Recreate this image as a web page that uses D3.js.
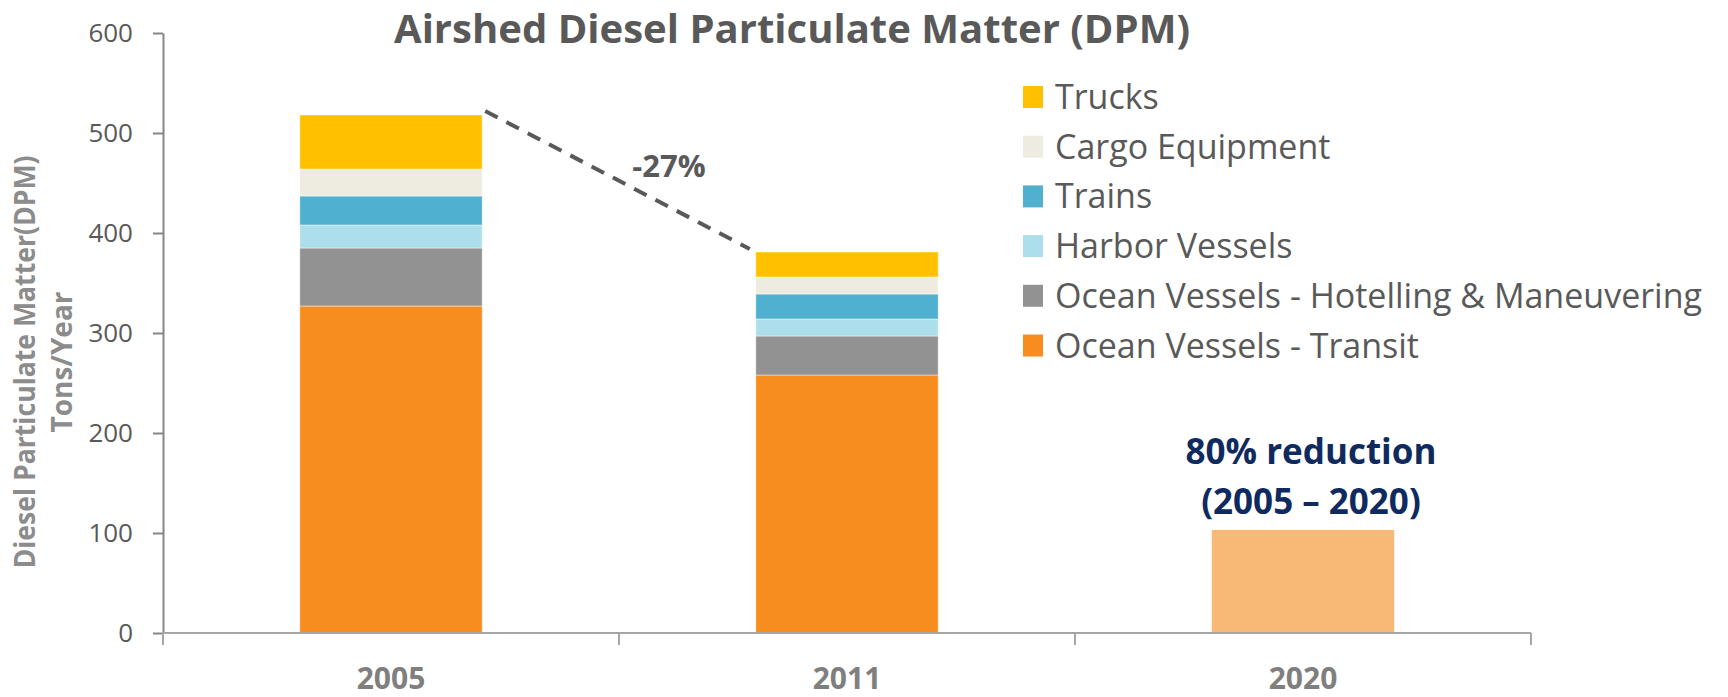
<!DOCTYPE html>
<html lang="en">
	<head>
		<meta charset="utf-8">
		<title>Airshed Diesel Particulate Matter (DPM)</title>
		<script type="text/javascript" src="https://cdn.jsdelivr.net/npm/d3@7"></script>
		<style type="text/css">
			body { margin: 0; background: #fff; }
			text { font-family: "Open Sans", sans-serif; }
		</style>
	</head>
	<body>
		<script type="text/javascript">

			//Data (tons/year)
			var years = ["2005", "2011", "2020"];
			var seriesNames = ["Ocean Vessels - Transit", "Ocean Vessels - Hotelling & Maneuvering",
							   "Harbor Vessels", "Trains", "Cargo Equipment", "Trucks"];
			var transit   = [327, 258, 0];
			var hotelling = [58, 39, 0];
			var harbor    = [23, 17, 0];
			var trains    = [29, 25, 0];
			var cargo     = [27, 17, 0];
			var trucks    = [54, 25, 0];
			var target2020 = [0, 0, 103];
			var yTicks = [0, 100, 200, 300, 400, 500, 600];
			var colors = ["#F78D1F", "#929292", "#ACDFEB", "#4FB0D0", "#EEECE1", "#FFC000"];
			var targetColor = "#F8B977";

			//Width and height
			var w = 1728;
			var h = 697;
			var plotLeft = 163, plotRight = 1531, plotTop = 33, plotBottom = 633;

			var rows = years.map(function(y, i) {
				return {
					year: y,
					"Ocean Vessels - Transit": transit[i],
					"Ocean Vessels - Hotelling & Maneuvering": hotelling[i],
					"Harbor Vessels": harbor[i],
					"Trains": trains[i],
					"Cargo Equipment": cargo[i],
					"Trucks": trucks[i]
				};
			});

			var stacked = d3.stack().keys(seriesNames)(rows);

			var xOuter = d3.scaleBand()
							.domain(years)
							.range([plotLeft, plotRight])
							.padding(0);

			var xScale = d3.scaleBand()
							.domain(years)
							.range([plotLeft, plotRight])
							.paddingInner(0.6)
							.paddingOuter(0.3);

			var yScale = d3.scaleLinear()
							.domain([0, 600])
							.range([plotBottom, plotTop]);

			//Create SVG element
			var svg = d3.select("body")
						.append("svg")
						.attr("width", w)
						.attr("height", h);

			//Stacked bars
			svg.selectAll("g.series")
			   .data(stacked)
			   .enter()
			   .append("g")
			   .attr("class", "series")
			   .attr("fill", function(d, i) { return colors[i]; })
			   .selectAll("rect")
			   .data(function(d) { return d.filter(function(s) { return s[1] > s[0]; }); })
			   .enter()
			   .append("rect")
			   .attr("x", function(d) { return xScale(d.data.year); })
			   .attr("y", function(d) { return yScale(d[1]); })
			   .attr("width", xScale.bandwidth())
			   .attr("height", function(d) { return yScale(d[0]) - yScale(d[1]); })
			   .attr("stroke", "rgba(255,255,255,0.45)")
			   .attr("stroke-width", 1);

			//2020 target bar
			svg.selectAll("rect.target")
			   .data(years.filter(function(d, i) { return target2020[i] > 0; }))
			   .enter()
			   .append("rect")
			   .attr("class", "target")
			   .attr("x", function(d) { return xScale(d); })
			   .attr("y", function(d) { return yScale(target2020[years.indexOf(d)]); })
			   .attr("width", xScale.bandwidth())
			   .attr("height", function(d) { return plotBottom - yScale(target2020[years.indexOf(d)]); })
			   .attr("fill", targetColor);

			//Y axis
			var yAxis = d3.axisLeft(yScale)
						  .tickValues(yTicks)
						  .tickSize(10)
						  .tickSizeOuter(0)
						  .tickPadding(20);

			var gy = svg.append("g")
						.attr("transform", "translate(" + plotLeft + ",0)")
						.call(yAxis);
			gy.select(".domain").attr("stroke", "#868686").attr("stroke-width", 2);
			gy.selectAll(".tick line").attr("stroke", "#868686").attr("stroke-width", 2);
			gy.selectAll(".tick text")
			  .attr("font-family", "Open Sans")
			  .attr("font-size", "26px")
			  .attr("fill", "#595959");

			//X axis line with boundary ticks
			svg.append("line")
			   .attr("x1", plotLeft).attr("x2", plotRight)
			   .attr("y1", plotBottom).attr("y2", plotBottom)
			   .attr("stroke", "#A6A6A6")
			   .attr("stroke-width", 2);

			var bounds = years.map(function(d) { return xOuter(d); }).concat([plotRight]);
			svg.selectAll("line.xtick")
			   .data(bounds)
			   .enter()
			   .append("line")
			   .attr("class", "xtick")
			   .attr("x1", function(d) { return d; })
			   .attr("x2", function(d) { return d; })
			   .attr("y1", plotBottom)
			   .attr("y2", plotBottom + 12)
			   .attr("stroke", "#A6A6A6")
			   .attr("stroke-width", 2);

			svg.selectAll("text.xlabel")
			   .data(years)
			   .enter()
			   .append("text")
			   .attr("class", "xlabel")
			   .attr("x", function(d) { return xOuter(d) + xOuter.bandwidth() / 2; })
			   .attr("y", 689)
			   .attr("text-anchor", "middle")
			   .attr("font-size", "30px")
			   .attr("font-weight", "bold")
			   .attr("fill", "#7F7F7F")
			   .text(function(d) { return d; });

			//Y axis title
			var yTitle = svg.append("text")
							.attr("transform", "translate(35,362) rotate(-90)")
							.attr("text-anchor", "middle")
							.attr("font-size", "28px")
							.attr("font-weight", "bold")
							.attr("fill", "#8C8C8C");
			yTitle.append("tspan")
				  .attr("x", 0).attr("y", 0)
				  .attr("textLength", 413)
				  .attr("lengthAdjust", "spacingAndGlyphs")
				  .text("Diesel Particulate Matter(DPM)");
			yTitle.append("tspan")
				  .attr("x", 0).attr("y", 37)
				  .text("Tons/Year");

			//Chart title
			svg.append("text")
			   .attr("x", 792)
			   .attr("y", 43)
			   .attr("text-anchor", "middle")
			   .attr("font-size", "40px")
			   .attr("font-weight", "bold")
			   .attr("fill", "#595959")
			   .attr("textLength", 796)
			   .attr("lengthAdjust", "spacingAndGlyphs")
			   .text("Airshed Diesel Particulate Matter (DPM)");

			//Dashed change line between 2005 and 2011 tops
			var total = function(i) { return stacked[stacked.length - 1][i][1]; };
			svg.append("line")
			   .attr("x1", xScale("2005") + xScale.bandwidth() + 3)
			   .attr("y1", yScale(total(0)) - 4)
			   .attr("x2", xScale("2011") - 6)
			   .attr("y2", yScale(total(1)) - 3)
			   .attr("stroke", "#595959")
			   .attr("stroke-width", 4)
			   .attr("stroke-dasharray", "14,10");

			svg.append("text")
			   .attr("x", 669)
			   .attr("y", 177)
			   .attr("text-anchor", "middle")
			   .attr("font-size", "31px")
			   .attr("font-weight", "bold")
			   .attr("fill", "#595959")
			   .text("-27%");

			//2020 annotation
			var note = svg.append("text")
						  .attr("text-anchor", "middle")
						  .attr("font-size", "35px")
						  .attr("font-weight", "bold")
						  .attr("fill", "#0F2A5E");
			note.append("tspan").attr("x", 1311).attr("y", 464).text("80% reduction");
			note.append("tspan").attr("x", 1311).attr("y", 514).text("(2005 \u2013 2020)");

			//Legend (top series first)
			var legend = svg.selectAll("g.legend")
							.data(seriesNames.slice().reverse())
							.enter()
							.append("g")
							.attr("class", "legend")
							.attr("transform", function(d, i) {
								return "translate(1023," + (97 + i * 49.7) + ")";
							});
			legend.append("rect")
				  .attr("x", 0)
				  .attr("y", -11)
				  .attr("width", 20)
				  .attr("height", 22)
				  .attr("fill", function(d) { return colors[seriesNames.indexOf(d)]; });
			legend.append("text")
				  .attr("x", 32)
				  .attr("y", 12)
				  .attr("font-size", "34px")
				  .attr("fill", "#595959")
				  .text(function(d) { return d; });
		</script>
	</body>
</html>
